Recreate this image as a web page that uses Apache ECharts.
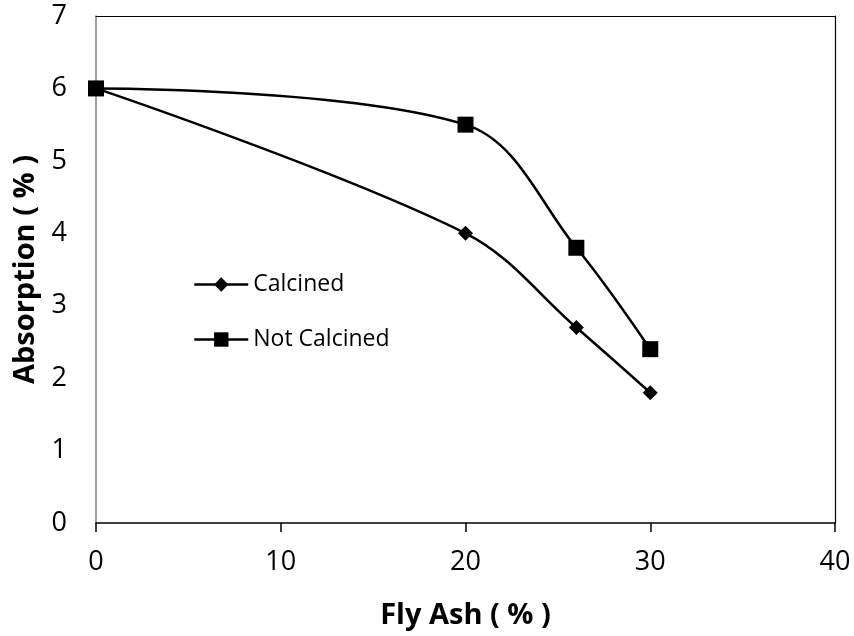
<!DOCTYPE html>
<html><head><meta charset="utf-8">
<script src="https://cdn.jsdelivr.net/npm/echarts@6/dist/echarts.min.js"></script>
<style>html,body{margin:0;padding:0;background:#fff}#c{width:854px;height:636px}</style>
</head><body><div id="c"></div>
<script>
const flyAsh = [0, 20, 26, 30];
const calcined = [6, 4, 2.7, 1.8];
const notCalcined = [6, 5.5, 3.8, 2.4];
const xTicks = [0, 10, 20, 30, 40];
const yTicks = [0, 1, 2, 3, 4, 5, 6, 7];

const font = "'Open Sans', 'Noto Sans', sans-serif";
const chart = echarts.init(document.getElementById('c'), null, {renderer: 'canvas'});
const frameAxis = {
  axisLine: {show: true, onZero: false, lineStyle: {color: '#000', width: 1.2}},
  axisTick: {show: false}, axisLabel: {show: false}, splitLine: {show: false}
};
chart.setOption({
  animation: false,
  backgroundColor: '#fff',
  textStyle: {fontFamily: font},
  grid: {left: 96, right: 19, top: 16, bottom: 113, containLabel: false, outerBoundsMode: 'none'},
  legend: {
    orient: 'vertical', left: 188, top: 268, itemGap: 32, itemWidth: 54, itemHeight: 18,
    lineStyle: {width: 2.5, color: '#000'},
    textStyle: {fontSize: 23, color: '#000', fontFamily: font},
    data: ['Calcined', 'Not Calcined']
  },
  xAxis: [{
    type: 'value', min: 0, max: 40, interval: 10,
    name: 'Fly Ash ( % )', nameLocation: 'middle', nameGap: 78,
    nameTextStyle: {fontSize: 29, fontWeight: 'bold', color: '#000', fontFamily: font},
    axisLine: {show: true, onZero: false, lineStyle: {color: '#000', width: 1.5}},
    axisTick: {show: true, inside: false, length: 9, lineStyle: {color: '#000', width: 1.5}},
    axisLabel: {fontSize: 27, color: '#000', margin: 26, fontFamily: font,
      formatter: v => xTicks.includes(v) ? String(v) : ''},
    splitLine: {show: false}
  }, Object.assign({type: 'value', min: 0, max: 40, position: 'top'}, frameAxis)],
  yAxis: [{
    type: 'value', min: 0, max: 7, interval: 1,
    name: 'Absorption ( % )', nameLocation: 'middle', nameGap: 56, nameRotate: 90,
    nameTextStyle: {fontSize: 29, fontWeight: 'bold', color: '#000', fontFamily: font},
    axisLine: {show: true, onZero: false, lineStyle: {color: '#808080', width: 1.5}},
    axisTick: {show: false},
    axisLabel: {fontSize: 27, color: '#000', margin: 29, fontFamily: font,
      formatter: v => yTicks.includes(v) ? String(v) : ''},
    splitLine: {show: false}
  }, Object.assign({type: 'value', min: 0, max: 7, position: 'right'}, frameAxis)],
  series: [
    {
      name: 'Calcined', type: 'line', smooth: 0.35,
      data: flyAsh.map((x, i) => [x, calcined[i]]),
      symbol: 'diamond', symbolSize: 15,
      lineStyle: {color: '#000', width: 2.5},
      itemStyle: {color: '#000'}
    },
    {
      name: 'Not Calcined', type: 'line', smooth: 0.35,
      data: flyAsh.map((x, i) => [x, notCalcined[i]]),
      symbol: 'rect', symbolSize: 16,
      lineStyle: {color: '#000', width: 2.5},
      itemStyle: {color: '#000'}
    }
  ]
});
</script></body></html>
